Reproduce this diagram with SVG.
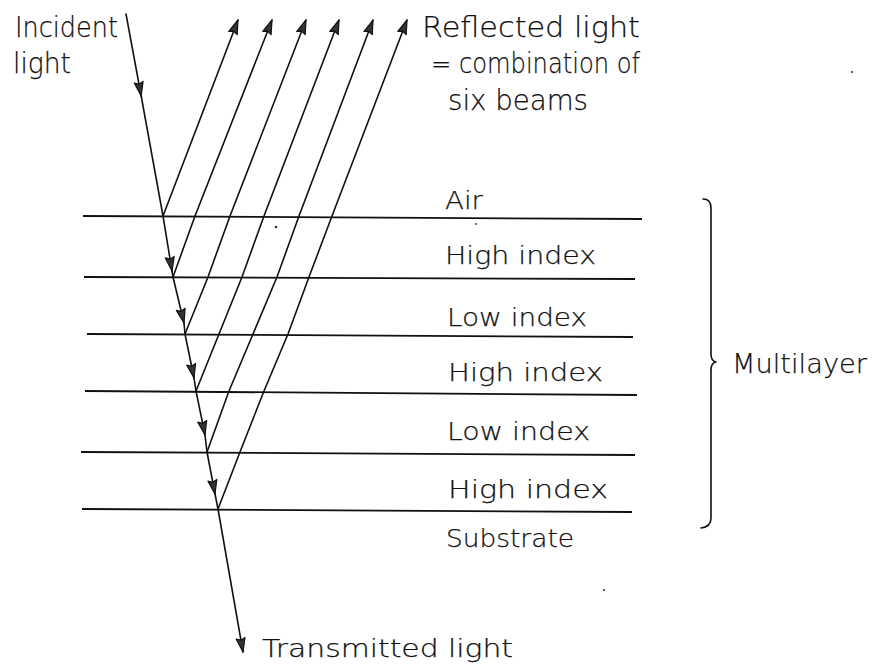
<svg xmlns="http://www.w3.org/2000/svg" width="876" height="669" viewBox="0 0 876 669">
<style>
.t{font-family:"DejaVu Sans","Liberation Sans",sans-serif;font-weight:200;fill:#111;stroke:#111;stroke-width:0.25}
.top{font-size:28px}
.lay{font-size:25px}
.ln{stroke:#111;stroke-width:1.6;fill:none;stroke-linecap:round;stroke-linejoin:round}
.iface{stroke:#111;stroke-width:1.8;fill:none}
</style>
<defs>
<marker id="ah" markerUnits="userSpaceOnUse" markerWidth="20" markerHeight="14" viewBox="-16 -7 18 14" refX="0" refY="0" orient="auto">
<path d="M0,0 L-14,-4.5 L-12,0 L-14,4.5 Z" fill="#333" stroke="#111" stroke-width="1.2" stroke-linejoin="round"/>
</marker>
</defs>
<rect width="876" height="669" fill="#fff"/>

<g id="interfaces">
<line class="iface" x1="83" y1="216" x2="642" y2="219"/>
<line class="iface" x1="84" y1="277" x2="635" y2="279"/>
<line class="iface" x1="87" y1="334" x2="633" y2="337"/>
<line class="iface" x1="85" y1="391" x2="637" y2="395"/>
<line class="iface" x1="81" y1="452" x2="635" y2="455"/>
<line class="iface" x1="82" y1="509" x2="632" y2="512"/>
</g>

<g id="layer-labels">
<text class="t lay" x="445" y="209" textLength="38" lengthAdjust="spacingAndGlyphs">Air</text>
<text class="t lay" x="445" y="264" textLength="151" lengthAdjust="spacingAndGlyphs">High index</text>
<text class="t lay" x="447" y="326" textLength="140" lengthAdjust="spacingAndGlyphs">Low index</text>
<text class="t lay" x="448" y="381" textLength="155" lengthAdjust="spacingAndGlyphs">High index</text>
<text class="t lay" x="447" y="440" textLength="143" lengthAdjust="spacingAndGlyphs">Low index</text>
<text class="t lay" x="448" y="498" textLength="160" lengthAdjust="spacingAndGlyphs">High index</text>
<text class="t lay" x="446" y="547" textLength="128" lengthAdjust="spacingAndGlyphs">Substrate</text>
</g>

<g id="multilayer">
<path class="ln" d="M703,199 Q711,199 711,208 L711,354 Q711,361 716,362 Q711,363 711,370 L711,518 Q711,527 701,528"/>
<text class="t" font-size="26" x="732" y="373" textLength="135" lengthAdjust="spacingAndGlyphs">Multilayer</text>
</g>

<g id="incident-label">
<text class="t top" x="15" y="37" textLength="103" lengthAdjust="spacingAndGlyphs">Incident</text>
<text class="t top" x="13" y="73" textLength="58" lengthAdjust="spacingAndGlyphs">light</text>
</g>

<g id="reflected-label">
<text class="t top" x="422" y="37" textLength="218" lengthAdjust="spacingAndGlyphs">Reflected light</text>
<text class="t top" x="431" y="73" textLength="209" lengthAdjust="spacingAndGlyphs">= combination of</text>
<text class="t top" x="448" y="110" textLength="140" lengthAdjust="spacingAndGlyphs">six beams</text>
</g>

<g id="transmitted-label">
<text class="t" font-size="24" x="262" y="657" textLength="251" lengthAdjust="spacingAndGlyphs">Transmitted light</text>
</g>

<g id="connectors">
<line class="ln" x1="126" y1="14" x2="141.2" y2="96" marker-end="url(#ah)"/>
<line class="ln" x1="141.2" y1="96" x2="163" y2="216"/>
<line class="ln" x1="163" y1="216" x2="172" y2="271" marker-end="url(#ah)"/>
<line class="ln" x1="172" y1="271" x2="173" y2="277"/>
<line class="ln" x1="173" y1="277" x2="184" y2="323" marker-end="url(#ah)"/>
<line class="ln" x1="184" y1="323" x2="185" y2="334"/>
<line class="ln" x1="185" y1="334" x2="194" y2="378" marker-end="url(#ah)"/>
<line class="ln" x1="194" y1="378" x2="196" y2="391"/>
<line class="ln" x1="196" y1="391" x2="205" y2="435" marker-end="url(#ah)"/>
<line class="ln" x1="205" y1="435" x2="207" y2="452"/>
<line class="ln" x1="207" y1="452" x2="215" y2="494" marker-end="url(#ah)"/>
<line class="ln" x1="215" y1="494" x2="218" y2="509"/>
<line class="ln" x1="218" y1="509" x2="243" y2="652" marker-end="url(#ah)"/>
<polyline class="ln" points="163,216 238,20" marker-end="url(#ah)"/>
<polyline class="ln" points="173,277 195,216 272,20" marker-end="url(#ah)"/>
<polyline class="ln" points="185,334 208,277 230,216 306,20" marker-end="url(#ah)"/>
<polyline class="ln" points="196,391 219,334 242,277 264,216 339,20" marker-end="url(#ah)"/>
<polyline class="ln" points="207,452 229,391 253,334 277,277 299,216 373,20" marker-end="url(#ah)"/>
<polyline class="ln" points="218,509 240,452 264,391 288,334 309,277 332,216 407,20" marker-end="url(#ah)"/>
</g>

<g id="specks" fill="#333">
<circle cx="276" cy="227" r="1.3"/>
<circle cx="852" cy="72" r="1.1"/>
<circle cx="604" cy="590" r="1.1"/>
<circle cx="476" cy="224" r="0.9"/>
</g>
</svg>
